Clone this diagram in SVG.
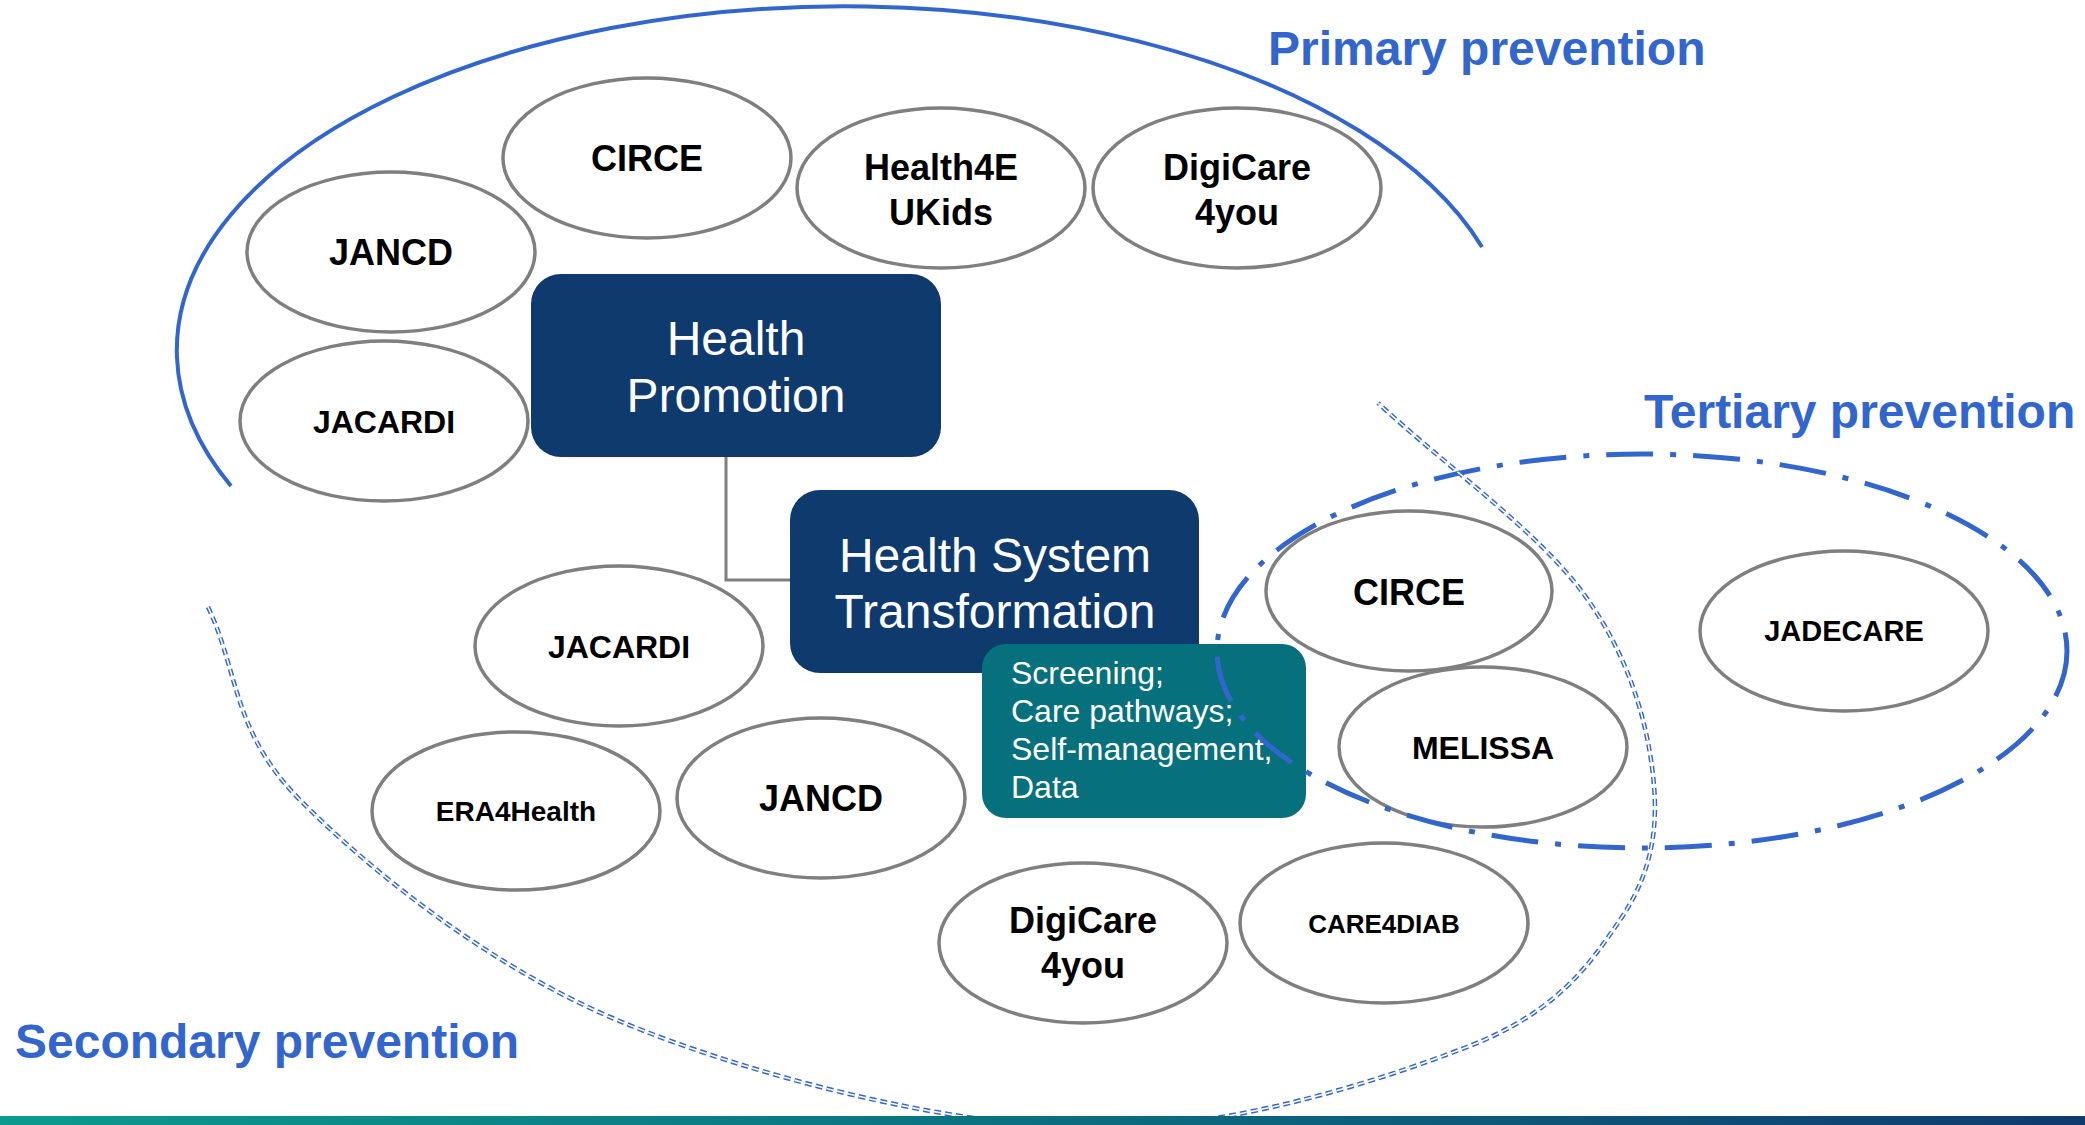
<svg xmlns="http://www.w3.org/2000/svg" width="2085" height="1125" viewBox="0 0 2085 1125">
<defs>
<linearGradient id="bar" x1="0" y1="0" x2="1" y2="0">
<stop offset="0" stop-color="#0B9A8D"/>
<stop offset="0.5" stop-color="#0B6F80"/>
<stop offset="1" stop-color="#0F3A6E"/>
</linearGradient>
<style>
.node ellipse{fill:#FFFFFF;stroke:#7F7F7F;stroke-width:3.5}
.lbl{font-family:"Liberation Sans",Arial,sans-serif;font-weight:bold;fill:#000000;text-anchor:middle}
.box{fill:#0F3A6E}
.boxt{font-family:"Liberation Sans",Arial,sans-serif;fill:#FFFFFF;font-size:48px;text-anchor:middle}
.teal{fill:#07707D}
.tealt{font-family:"Liberation Sans",Arial,sans-serif;fill:#FFFFFF;font-size:32px}
.title{font-family:"Liberation Sans",Arial,sans-serif;font-weight:bold;fill:#3366CC;font-size:48px}
.conn{fill:none;stroke:#7F7F7F;stroke-width:3}
</style>
</defs>
<rect width="2085" height="1125" fill="#FFFFFF"/>

<g id="primary-region">
<path d="M 231 486 A 668 344 0 1 1 1482 247" fill="none" stroke="#3366CC" stroke-width="4"/>
<text class="title" x="1268" y="65">Primary prevention</text>
</g>

<g id="connectors">
<path class="conn" d="M 726 457 L 726 580 L 790 580"/>
</g>

<g id="n-circe-top" class="node"><ellipse cx="647" cy="158" rx="144" ry="80"/><text class="lbl" x="647" y="171" font-size="36">CIRCE</text></g>
<g id="n-jancd-top" class="node"><ellipse cx="391" cy="252" rx="144" ry="80"/><text class="lbl" x="391" y="265" font-size="36">JANCD</text></g>
<g id="n-jacardi-top" class="node"><ellipse cx="384" cy="421" rx="144" ry="80"/><text class="lbl" x="384" y="433" font-size="32">JACARDI</text></g>
<g id="n-health4eukids" class="node"><ellipse cx="941" cy="188" rx="144" ry="80"/><text class="lbl" font-size="36"><tspan x="941" y="180">Health4E</tspan><tspan x="941" y="225">UKids</tspan></text></g>
<g id="n-digicare-top" class="node"><ellipse cx="1237" cy="188" rx="144" ry="80"/><text class="lbl" font-size="36"><tspan x="1237" y="180">DigiCare</tspan><tspan x="1237" y="225">4you</tspan></text></g>

<g id="n-health-promotion">
<rect class="box" x="531" y="274" width="410" height="183" rx="30"/>
<text class="boxt"><tspan x="736" y="355">Health</tspan><tspan x="736" y="412">Promotion</tspan></text>
</g>

<g id="n-hst">
<rect class="box" x="790" y="490" width="409" height="183" rx="30"/>
<text class="boxt"><tspan x="995" y="572">Health System</tspan><tspan x="995" y="628">Transformation</tspan></text>
</g>

<g id="n-jacardi-mid" class="node"><ellipse cx="619" cy="646" rx="144" ry="80"/><text class="lbl" x="619" y="658" font-size="32">JACARDI</text></g>
<g id="n-era4health" class="node"><ellipse cx="516" cy="811" rx="144" ry="79"/><text class="lbl" x="516" y="821" font-size="28">ERA4Health</text></g>
<g id="n-jancd-mid" class="node"><ellipse cx="821" cy="798" rx="144" ry="80"/><text class="lbl" x="821" y="811" font-size="36">JANCD</text></g>
<g id="n-digicare-bottom" class="node"><ellipse cx="1083" cy="943" rx="144" ry="80"/><text class="lbl" font-size="36"><tspan x="1083" y="933">DigiCare</tspan><tspan x="1083" y="978">4you</tspan></text></g>
<g id="n-care4diab" class="node"><ellipse cx="1384" cy="923" rx="144" ry="80"/><text class="lbl" x="1384" y="933" font-size="26">CARE4DIAB</text></g>
<g id="n-circe-right" class="node"><ellipse cx="1409" cy="591" rx="143" ry="80"/><text class="lbl" x="1409" y="605" font-size="36">CIRCE</text></g>
<g id="n-melissa" class="node"><ellipse cx="1483" cy="747" rx="144" ry="80"/><text class="lbl" x="1483" y="759" font-size="32">MELISSA</text></g>
<g id="n-jadecare" class="node"><ellipse cx="1844" cy="631" rx="144" ry="80"/><text class="lbl" x="1844" y="641" font-size="29">JADECARE</text></g>

<g id="n-teal">
<rect class="teal" x="982" y="644" width="324" height="174" rx="24"/>
<text class="tealt"><tspan x="1011" y="684">Screening;</tspan><tspan x="1011" y="722">Care pathways;</tspan><tspan x="1011" y="760">Self-management;</tspan><tspan x="1011" y="798">Data</tspan></text>
</g>

<g id="tertiary-region">
<ellipse cx="1642" cy="651" rx="425" ry="197" fill="none" stroke="#3366CC" stroke-width="5" stroke-dasharray="47 17 6 17"/>
<text class="title" x="1644" y="428">Tertiary prevention</text>
</g>

<g id="secondary-region">
<path id="sec" d="M 208 607 C 238.7 671.3 231.8 731.2 300 800 C 368.2 868.8 487 965.3 617 1020 C 747 1074.7 938.3 1123.5 1080 1128 C 1221.7 1132.5 1377 1081.7 1467 1047 C 1557 1012.3 1589 965.3 1620 920 C 1651 874.7 1659.2 829.5 1653 775 C 1646.8 720.5 1628.8 655 1583 593 C 1537.2 531 1446.3 466.3 1378 403" fill="none" stroke="#3366CC" stroke-width="4.5" stroke-dasharray="7 4"/>
<path d="M 208 607 C 238.7 671.3 231.8 731.2 300 800 C 368.2 868.8 487 965.3 617 1020 C 747 1074.7 938.3 1123.5 1080 1128 C 1221.7 1132.5 1377 1081.7 1467 1047 C 1557 1012.3 1589 965.3 1620 920 C 1651 874.7 1659.2 829.5 1653 775 C 1646.8 720.5 1628.8 655 1583 593 C 1537.2 531 1446.3 466.3 1378 403" fill="none" stroke="#FFFFFF" stroke-width="1.6" stroke-dasharray="7 4"/>
<text class="title" x="15" y="1058">Secondary prevention</text>
</g>

<rect id="bottom-bar" x="0" y="1116" width="2085" height="9" fill="url(#bar)"/>
</svg>
